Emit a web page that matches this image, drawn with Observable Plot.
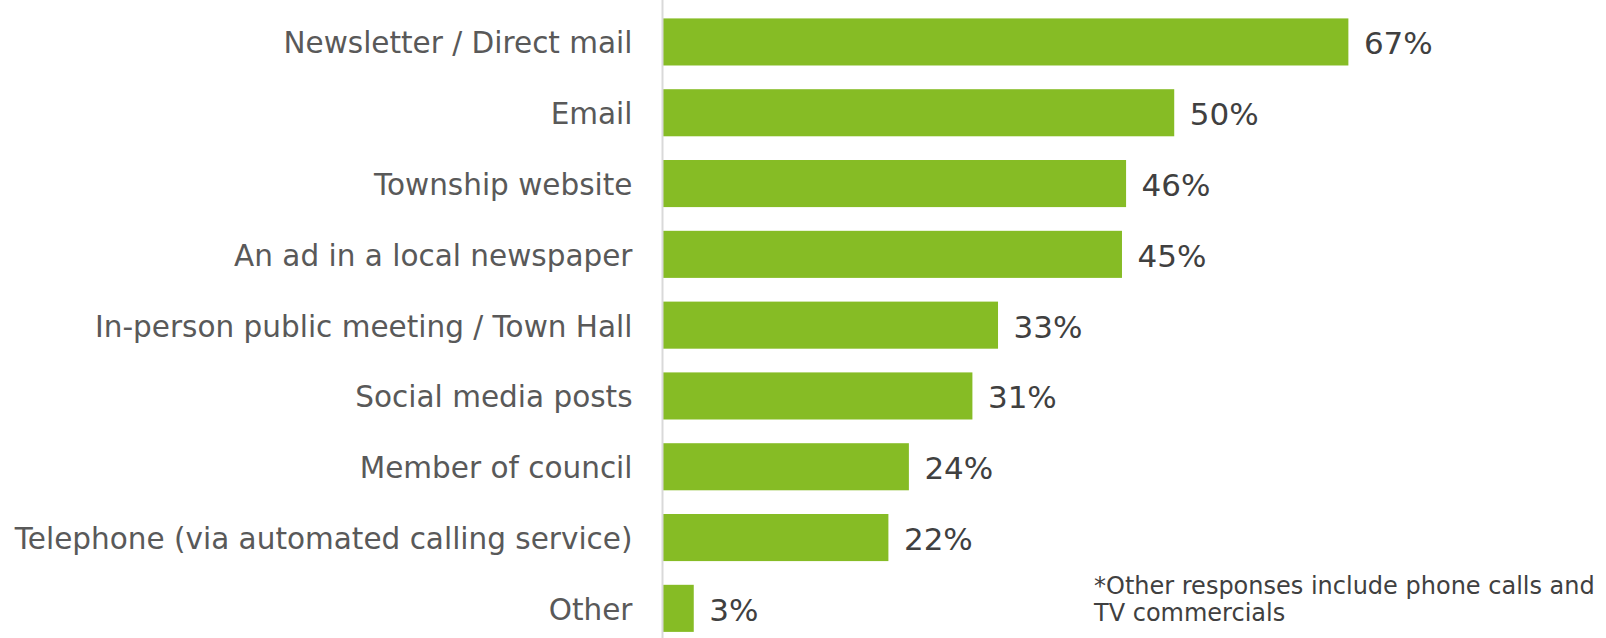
<!DOCTYPE html>
<html><head><meta charset="utf-8">
<script src="https://cdn.jsdelivr.net/npm/d3@7"></script>
<script src="https://cdn.jsdelivr.net/npm/@observablehq/plot@0.6"></script>
<style>
html,body{margin:0;padding:0;background:#fff;overflow:hidden;}
#wrap{position:relative;width:1606px;height:638px;overflow:hidden;}
#note{position:absolute;left:1094px;top:573px;font-family:"DejaVu Sans",Verdana,sans-serif;font-size:24px;line-height:27px;color:#404040;white-space:nowrap;}
</style></head>
<body><div id="wrap"><div id="note">*Other responses include phone calls and<br>TV commercials</div></div>
<script>
const categories = ["Newsletter / Direct mail","Email","Township website","An ad in a local newspaper","In-person public meeting / Town Hall","Social media posts","Member of council","Telephone (via automated calling service)","Other"];
const values = [67,50,45.3,44.9,32.8,30.3,24.1,22.1,3.1];
const valueLabels = ["67%","50%","46%","45%","33%","31%","24%","22%","3%"];
const data = categories.map((c,i)=>({category:c, value:values[i], label:valueLabels[i]}));
const chart = Plot.plot({
  width:1606, height:638,
  marginLeft:662, marginRight:22, marginTop:0, marginBottom:0,
  style:{fontFamily:"DejaVu Sans, Verdana, sans-serif", background:"#fff"},
  x:{domain:[0,90], axis:null},
  y:{domain:categories, range:[0,650.3], padding:0.335, paddingOuter:0.26, round:false, label:null},
  marks:[
    Plot.barX(data,{x:"value", y:"category", fill:"#86bc25"}),
    Plot.ruleX([0],{stroke:"#d9d9d9", strokeWidth:2}),
    Plot.axisY({tickSize:0, tickPadding:30, fontSize:29.5, dy:1.5, label:null, fill:"#595959"}),
    Plot.text(data,{x:"value", y:"category", text:"label", textAnchor:"start", dx:15, dy:2, fontSize:31, fill:"#404040"})
  ]
});
document.getElementById("wrap").prepend(chart);
</script>
</body></html>
